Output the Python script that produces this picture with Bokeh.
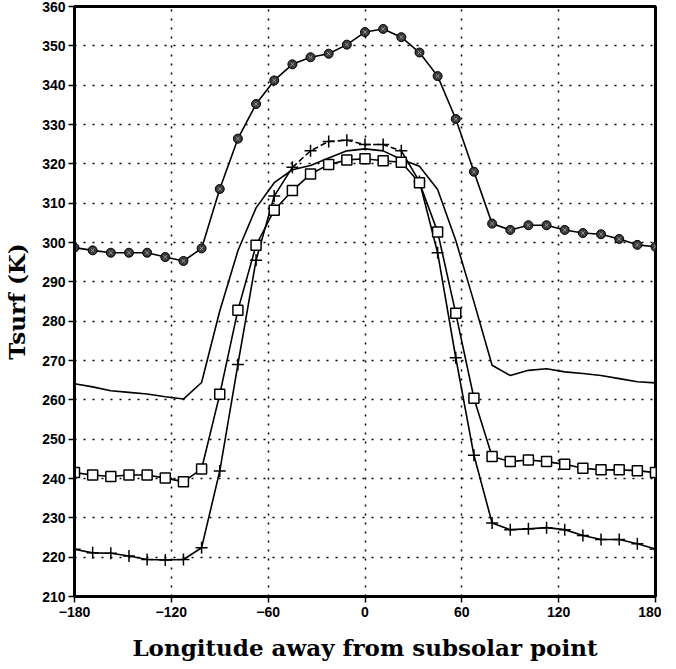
from bokeh.plotting import figure
from bokeh.embed import file_html
from bokeh.resources import INLINE
from bokeh.models import FixedTicker, Range1d

# Longitude (degrees away from subsolar point), every 11.25 deg
lon = [-180 + 11.25 * i for i in range(33)]

# Series with filled circle markers
t_circle = [298.7, 298.0, 297.4, 297.4, 297.4, 296.3, 295.3, 298.5, 313.6, 326.4, 335.2,
            341.2, 345.3, 347.1, 348.0, 350.3, 353.5, 354.3, 352.2, 348.3, 342.3, 331.4,
            318.0, 304.8, 303.2, 304.4, 304.4, 303.2, 302.4, 302.1, 300.9, 299.4, 298.9]

# Series with open square markers
t_square = [241.5, 240.9, 240.5, 240.9, 240.9, 240.1, 239.2, 242.4, 261.4, 282.8, 299.3,
            308.2, 313.2, 317.4, 319.8, 321.0, 321.3, 320.8, 320.4, 315.2, 302.7, 282.0,
            260.4, 245.6, 244.3, 244.7, 244.3, 243.6, 242.6, 242.2, 242.2, 242.0, 241.5]

# Series with plus markers
t_plus = [222.0, 221.1, 221.0, 220.3, 219.4, 219.3, 219.4, 222.4, 241.9, 269.0, 295.5,
          311.8, 319.1, 323.3, 325.7, 326.0, 324.9, 324.9, 323.3, 315.5, 297.4, 270.7,
          245.9, 228.7, 227.0, 227.2, 227.5, 227.0, 225.5, 224.5, 224.5, 223.4, 222.1]

# Plain line series (no markers)
t_line = [264.1, 263.3, 262.3, 261.9, 261.5, 260.8, 260.2, 264.4, 282.6, 297.9, 308.8,
          315.2, 318.5, 319.6, 321.5, 323.3, 323.8, 323.3, 321.1, 319.4, 313.5, 300.5,
          284.9, 268.8, 266.2, 267.5, 267.9, 267.1, 266.7, 266.2, 265.4, 264.6, 264.3]

x_ticks = [-180, -120, -60, 0, 60, 120, 180]
x_tick_labels = ["\u2212180", "\u2212120", "\u221260", "0", "60", "120", "180"]
y_ticks = list(range(210, 361, 10))

p = figure(frame_width=581, frame_height=590, output_backend="svg", toolbar_location=None,
           x_range=Range1d(-180, 180), y_range=Range1d(210, 360),
           min_border_left=73, min_border_top=6, min_border_right=6, min_border_bottom=56,
           background_fill_color="white", border_fill_color="white")

p.outline_line_color = "black"
p.outline_line_width = 3

for ax in (p.xaxis[0], p.yaxis[0]):
    ax.axis_line_width = 3
    ax.axis_line_color = "black"
    ax.major_tick_line_width = 1.5
    ax.major_tick_in = 0
    ax.major_tick_out = 6
    ax.minor_tick_line_color = None
    ax.major_label_text_font = "Liberation Sans"
    ax.major_label_text_font_style = "bold"
    ax.major_label_text_font_size = "14px"
    ax.major_label_text_color = "black"
    ax.axis_label_text_font = "DejaVu Serif"
    ax.axis_label_text_font_style = "bold"
    ax.axis_label_text_font_size = "23px"
    ax.axis_label_text_color = "black"

p.xaxis.ticker = FixedTicker(ticks=x_ticks)
p.xaxis.major_label_overrides = {t: l for t, l in zip(x_ticks, x_tick_labels)}
p.yaxis.ticker = FixedTicker(ticks=y_ticks)
p.xaxis.axis_label = "Longitude away from subsolar point"
p.yaxis.axis_label = "Tsurf (K)"
p.xaxis.major_label_standoff = 4
p.yaxis.major_label_standoff = 3
p.xaxis.axis_label_standoff = 14
p.yaxis.axis_label_standoff = 9

for g in (p.xgrid[0], p.ygrid[0]):
    g.grid_line_color = "black"
    g.grid_line_width = 1.5
    g.grid_line_dash = "2 7"

lw = 1.6
# plain line
p.line(lon, t_line, line_color="black", line_width=lw)

# plus series: solid with dashed segment near the peak
p.line(lon[:13], t_plus[:13], line_color="black", line_width=lw)
p.line(lon[12:19], t_plus[12:19], line_color="black", line_width=lw, line_dash="6 3")
p.line(lon[18:], t_plus[18:], line_color="black", line_width=lw)
p.scatter(lon, t_plus, marker="cross", size=12, line_color="black", line_width=1.5)

# square series
p.line(lon, t_square, line_color="black", line_width=lw)
p.scatter(lon, t_square, marker="square", size=10, fill_color="white",
          line_color="black", line_width=1.5)

# circle series
p.line(lon, t_circle, line_color="black", line_width=lw)
p.scatter(lon, t_circle, marker="circle", size=9, fill_color="#3a3a3a",
          line_color="black", line_width=1)
p.scatter(lon, t_circle, marker="x", size=5, line_color="#9a9a9a", line_width=1)

open("out.html", "w").write(file_html(p, INLINE))
